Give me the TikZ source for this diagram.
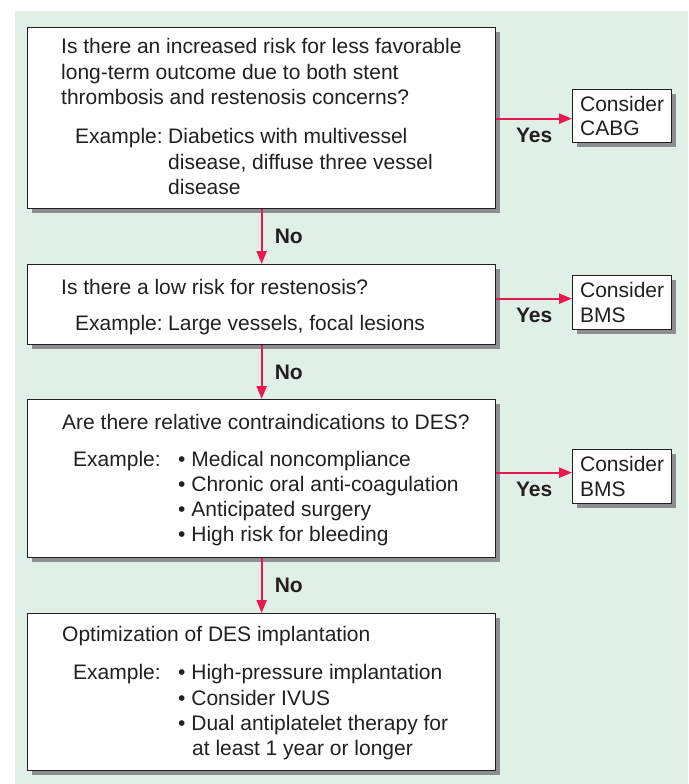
\documentclass[tikz,border=0pt]{standalone}
\usepackage{fontspec}
\setmainfont{Liberation Sans}
\usetikzlibrary{arrows.meta,shadows}
\definecolor{bg}{RGB}{224,240,230}
\definecolor{ink}{RGB}{35,31,32}
\definecolor{arr}{RGB}{232,24,80}
\definecolor{shd}{RGB}{140,142,145}
\begin{document}
\begin{tikzpicture}[x=1pt,y=-1pt,
  box/.style={draw=ink, line width=1.3pt, fill=white,
    drop shadow={shadow xshift=4pt, shadow yshift=-4pt, fill=shd, opacity=1},
    inner sep=0pt, anchor=north west},
  cbox/.style={box, minimum width=99pt, minimum height=53pt, align=left,
    font=\fontsize{21}{24.5}\selectfont, text=ink},
  txt/.style={anchor=base west, inner sep=0pt, font=\fontsize{21}{25}\selectfont, text=ink},
  lab/.style={inner sep=0pt, font=\fontsize{21}{25}\selectfont\bfseries, text=ink},
  flow/.style={draw=arr, line width=2.3pt, -{Triangle[length=13pt,width=10pt]}}]
\useasboundingbox (0,0) rectangle (688,784);
\fill[bg] (15,11) rectangle (688,784);
% main boxes
\node[box, minimum width=468pt, minimum height=181pt] (b1) at (27,27) {};
\node[box, minimum width=468pt, minimum height=80pt] (b2) at (27,264) {};
\node[box, minimum width=468pt, minimum height=158pt] (b3) at (27,399) {};
\node[box, minimum width=468pt, minimum height=157pt] (b4) at (27,613) {};
% consider boxes
\node[cbox] (c1) at (572,89) {Consider\\CABG};
\node[cbox, minimum height=54pt] (c2) at (572,275) {Consider\\BMS};
\node[cbox, minimum height=54pt] (c3) at (572,449) {Consider\\BMS};
% box 1 text
\node[txt] (t1a) at (61,54) {Is there an increased risk for less favorable};
\node[txt] (t1b) at (61,79) {long-term outcome due to both stent};
\node[txt] (t1c) at (61,104) {thrombosis and restenosis concerns?};
\node[txt] (t1d) at (75,143) {Example:};
\node[txt] (t1e) at (168,143) {Diabetics with multivessel};
\node[txt] (t1f) at (168,169) {disease, diffuse three vessel};
\node[txt] (t1g) at (168,194) {disease};
% box 2 text
\node[txt] (t2a) at (61,294) {Is there a low risk for restenosis?};
\node[txt] (t2b) at (75,330) {Example:};
\node[txt] (t2c) at (168,330) {Large vessels, focal lesions};
% box 3 text
\node[txt] (t3a) at (62,429) {Are there relative contraindications to DES?};
\node[txt] (t3b) at (73,466) {Example:};
\node[txt] (t3c) at (178,466) {• Medical noncompliance};
\node[txt] (t3d) at (178,491) {• Chronic oral anti-coagulation};
\node[txt] (t3e) at (178,516) {• Anticipated surgery};
\node[txt] (t3f) at (178,541) {• High risk for bleeding};
% box 4 text
\node[txt] (t4a) at (62,641) {Optimization of DES implantation};
\node[txt] (t4b) at (73,679) {Example:};
\node[txt] (t4c) at (178,679) {• High-pressure implantation};
\node[txt] (t4d) at (178,705) {• Consider IVUS};
\node[txt] (t4e) at (178,730) {• Dual antiplatelet therapy for};
\node[txt] (t4f) at (192,755) {at least 1 year or longer};
% No arrows
\draw[flow] (b1.south) -- (b2.north) node[lab, midway, anchor=west, xshift=12pt] (n1) {No};
\draw[flow] (b2.south) -- (b3.north) node[lab, midway, anchor=west, xshift=12pt] (n2) {No};
\draw[flow] (b3.south) -- (b4.north) node[lab, midway, anchor=west, xshift=12pt] (n3) {No};
% Yes arrows
\coordinate (y1) at ([yshift=-0.5pt]b1.east);
\coordinate (y2) at ([yshift=6pt]b2.east);
\coordinate (y3) at ([yshift=6pt]b3.east);
\draw[flow] (y1) -- (y1 -| c1.west) node[lab, midway, yshift=-17pt] (s1) {Yes};
\draw[flow] (y2) -- (y2 -| c2.west) node[lab, midway, yshift=-17pt] (s2) {Yes};
\draw[flow] (y3) -- (y3 -| c3.west) node[lab, midway, yshift=-17pt] (s3) {Yes};
\end{tikzpicture}
\end{document}
